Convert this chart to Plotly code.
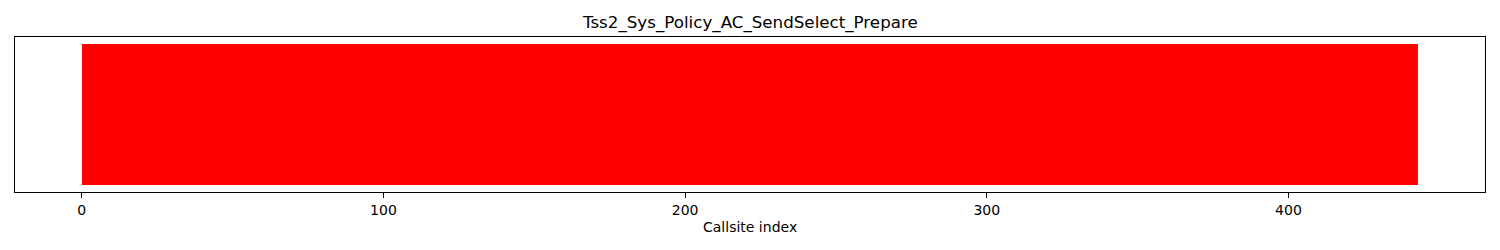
import plotly.graph_objects as go

# Data: one bar per callsite index, all marked (value 1), coloured red
n_callsites = 443
callsite_index = list(range(n_callsites))
callsite_value = [1] * n_callsites
bar_color = "#ff0000"
title_text = "Tss2_Sys_Policy_AC_SendSelect_Prepare"
x_label = "Callsite index"
tick_vals = [0, 100, 200, 300, 400]

W, H = 1500, 250
L, R, T, B = 15.3, 14.7, 37, 57.7

fig = go.Figure()
fig.add_trace(go.Bar(
    x=callsite_index,
    y=callsite_value,
    width=1,
    offset=0,
    marker=dict(color=bar_color, line=dict(width=0)),
    hoverinfo="x",
))

xmin, xmax = 0, n_callsites
pad = 0.05 * (xmax - xmin)
fig.update_layout(
    width=W, height=H,
    margin=dict(l=L, r=R, t=T, b=B, pad=0),
    plot_bgcolor="white", paper_bgcolor="white",
    bargap=0, showlegend=False,
    font=dict(family="DejaVu Sans", size=14, color="black"),
    xaxis=dict(
        range=[xmin - pad, xmax + pad],
        tickvals=tick_vals, ticktext=[str(v) for v in tick_vals],
        ticks="outside", ticklen=5, tickwidth=1.1, tickcolor="black",
        showline=True, linecolor="black", linewidth=1.1, mirror=True,
        showgrid=False, zeroline=False,
        tickfont=dict(size=14, family="DejaVu Sans"),
    ),
    yaxis=dict(
        range=[-0.05, 1.05],
        showticklabels=False, ticks="",
        showline=True, linecolor="black", linewidth=1.1, mirror=True,
        showgrid=False, zeroline=False,
    ),
    annotations=[
        dict(text=title_text, xref="paper", yref="paper", x=0.5, y=1,
             xanchor="center", yanchor="bottom", yshift=2, showarrow=False,
             font=dict(size=16.7, family="DejaVu Sans", color="black")),
        dict(text=x_label, xref="paper", yref="paper", x=0.5, y=0,
             xanchor="center", yanchor="top", yshift=-25, showarrow=False,
             font=dict(size=14, family="DejaVu Sans", color="black")),
    ],
)

fig.write_html("out.html")
